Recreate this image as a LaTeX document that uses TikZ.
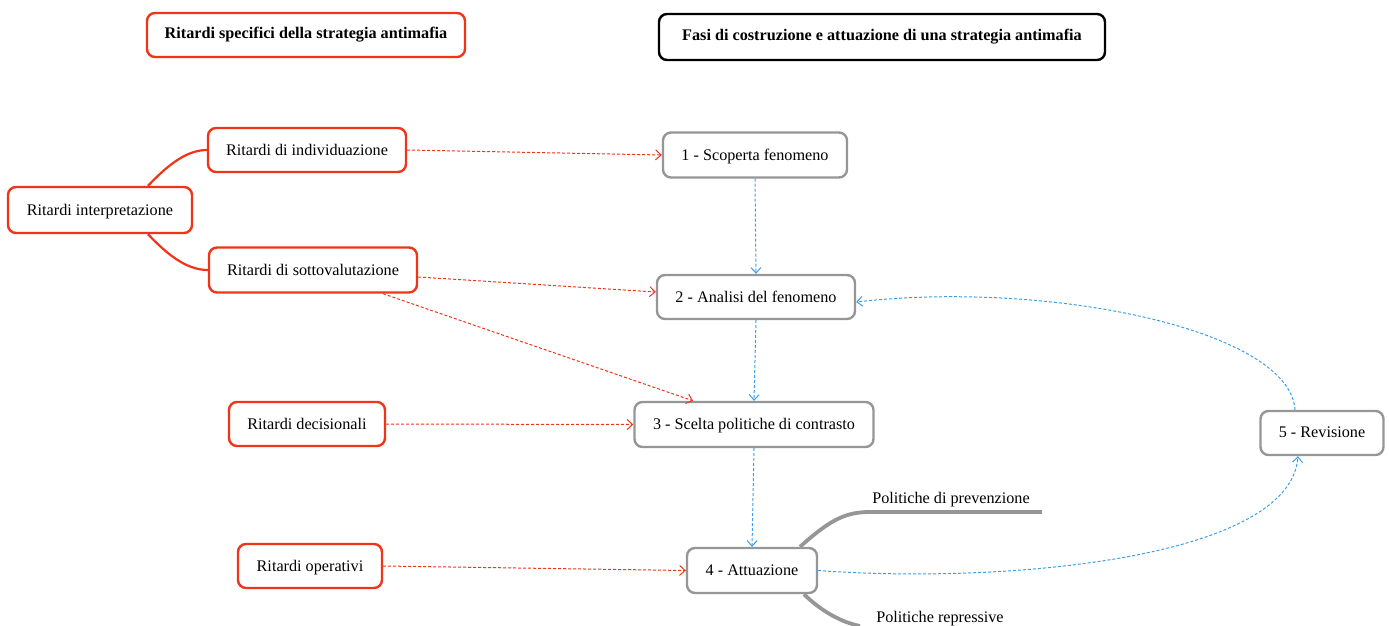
\documentclass[tikz,border=0pt]{standalone}
\usepackage{fontspec}
\setmainfont{Liberation Serif}
\usetikzlibrary{arrows.meta}
\definecolor{rred}{RGB}{240,52,24}
\definecolor{bblue}{RGB}{60,158,235}
\definecolor{ggray}{RGB}{150,150,150}
\begin{document}
\begin{tikzpicture}[x=1pt,y=-1pt,
  every node/.style={font=\fontsize{16.2}{18}\selectfont, inner sep=0pt},
  redbox/.style={draw=rred, line width=2.4pt, rounded corners=8pt, fill=white, text depth=1pt},
  graybox/.style={draw=ggray, line width=2.4pt, rounded corners=8pt, fill=white, text depth=1pt},
  titlebox/.style={rounded corners=8pt, line width=2.4pt, font=\fontsize{16.2}{18}\selectfont\bfseries},
  reddash/.style={draw=rred, line width=1pt, dash pattern=on 3pt off 2pt, -{Straight Barb[length=5.5pt,width=10pt]}},
  bluedash/.style={draw=bblue, line width=1pt, dash pattern=on 3pt off 2pt, -{Straight Barb[length=5.5pt,width=10pt]}},
  redline/.style={draw=rred, line width=2.2pt},
  grayline/.style={draw=ggray, line width=3.8pt}
]
\useasboundingbox (0,0) rectangle (1389,626);

% titles
\node[titlebox, draw=rred, minimum width=318pt, minimum height=44pt] (t1) at (306,35) {Ritardi specifici della strategia antimafia};
\node[titlebox, draw=black, minimum width=446pt, minimum height=46pt] (t2) at (882,37) {Fasi di costruzione e attuazione di una strategia antimafia};

% red nodes
\node[redbox, minimum width=198pt, minimum height=44pt] (ind) at (307,150) {Ritardi di individuazione};
\node[redbox, minimum width=184pt, minimum height=46pt] (int) at (100,210) {Ritardi interpretazione};
\node[redbox, minimum width=208pt, minimum height=45pt] (sot) at (313,270) {Ritardi di sottovalutazione};
\node[redbox, minimum width=156pt, minimum height=44pt] (dec) at (307,424) {Ritardi decisionali};
\node[redbox, minimum width=144pt, minimum height=44pt] (ope) at (310,566) {Ritardi operativi};

% gray nodes
\node[graybox, minimum width=184pt, minimum height=45pt] (s1) at (755,155) {1 - Scoperta fenomeno};
\node[graybox, minimum width=198pt, minimum height=44pt] (s2) at (756,297) {2 - Analisi del fenomeno};
\node[graybox, minimum width=239pt, minimum height=45pt] (s3) at (754,424.5) {3 - Scelta politiche di contrasto};
\node[graybox, minimum width=130pt, minimum height=45pt] (s4) at (752,570.5) {4 - Attuazione};
\node[graybox, minimum width=123pt, minimum height=44pt] (s5) at (1322,433) {5 - Revisione};

% branch lines from Ritardi interpretazione
\draw[redline] (int.north)+(48,0) coordinate (intn) (intn) .. controls (165,168) and (185,150) .. (ind.west);
\draw[redline] (int.south)+(48,0) coordinate (ints) (ints) .. controls (165,252) and (185,270) .. (sot.west);

% politiche branches
\coordinate (pp) at (1042,512);
\coordinate (pr) at (860,626);
\draw[grayline] ([xshift=48pt]s4.north) .. controls (830,520) and (845,512) .. (870,512) -- (pp);
\node[anchor=base] (lpp) at (951,503) {Politiche di prevenzione};
\draw[grayline] ([xshift=52pt]s4.south) .. controls (820,610) and (840,622) .. (pr);
\node[anchor=base] (lpr) at (940,622) {Politiche repressive};

% red dashed connectors
\draw[reddash] (ind.east) -- (s1.west);
\draw[reddash] ([yshift=-7pt]sot.east) -- ([yshift=5pt]s2.west);
\draw[reddash] ([xshift=70pt]sot.south) -- ([xshift=-61pt]s3.north);
\draw[reddash] (dec.east) -- (s3.west);
\draw[reddash] (ope.east) -- (s4.west);

% blue dashed connectors
\draw[bluedash] (s1.south) -- (s2.north);
\draw[bluedash] (s2.south) -- (s3.north);
\draw[bluedash] (s3.south) -- (s4.north);
\draw[bluedash] (s4.east) .. controls (1000,584) and (1290,560) .. ([xshift=-24pt]s5.south);
\draw[bluedash] ([xshift=-27pt]s5.north) .. controls (1290,330) and (1050,280) .. ([yshift=-5pt]s2.east);
\end{tikzpicture}
\end{document}
